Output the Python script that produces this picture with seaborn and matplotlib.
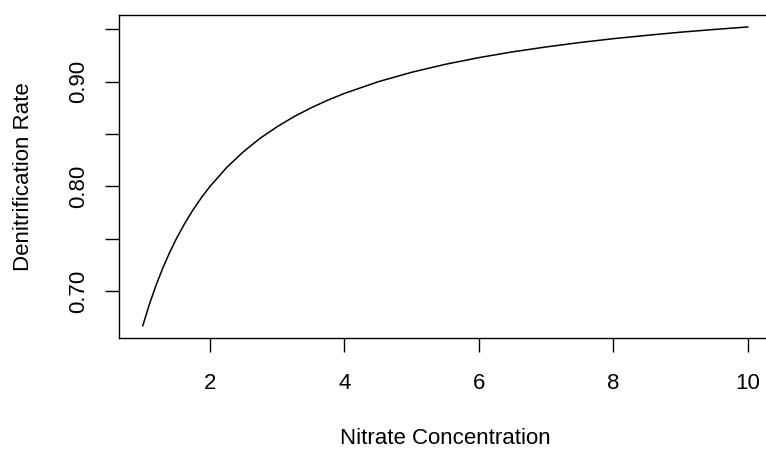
import matplotlib
matplotlib.use("Agg")
import matplotlib.pyplot as plt
import seaborn as sns
import pandas as pd

# Values
nitrate = [1.0, 1.1, 1.2, 1.3, 1.4, 1.5, 1.625, 1.75, 1.875, 2.0, 2.25, 2.5, 2.75,
           3.0, 3.25, 3.5, 3.75, 4.0, 4.5, 5.0, 5.5, 6.0, 6.5, 7.0, 7.5, 8.0,
           8.5, 9.0, 9.5, 10.0]
rate = [0.6667, 0.6875, 0.7059, 0.7222, 0.7368, 0.7500, 0.7647, 0.7778, 0.7895,
        0.8000, 0.8182, 0.8333, 0.8462, 0.8571, 0.8667, 0.8750, 0.8824, 0.8889,
        0.9000, 0.9091, 0.9167, 0.9231, 0.9286, 0.9333, 0.9375, 0.9412, 0.9444,
        0.9474, 0.9500, 0.9524]

x_ticks = [2, 4, 6, 8, 10]
x_tick_labels = ["2", "4", "6", "8", "10"]
y_ticks = [0.70, 0.75, 0.80, 0.85, 0.90, 0.95]
y_tick_labels = ["0.70", "", "0.80", "", "0.90", ""]

x_label = "Nitrate Concentration"
y_label = "Denitrification Rate"

sns.set_style("ticks")
plt.rcParams["font.family"] = ["Liberation Sans", "DejaVu Sans"]

df = pd.DataFrame({"x": nitrate, "y": rate})

fig = plt.figure(figsize=(7.66, 4.49), dpi=100)
W, H = 766, 449
left, right, top, bottom = 118.5, 772.2, 15, 338
ax = fig.add_axes([left / W, (H - bottom) / H, (right - left) / W, (bottom - top) / H])

sns.lineplot(data=df, x="x", y="y", ax=ax, color="black", linewidth=1.1, estimator=None)

ax.set_xlim(0.64, 10.36)
ax.set_ylim(0.65517, 0.96381)

ax.set_xticks(x_ticks)
ax.set_xticklabels(x_tick_labels)
ax.set_yticks(y_ticks)
ax.set_yticklabels(y_tick_labels, rotation=90, va="center")

ax.tick_params(axis="both", direction="out", length=10, width=1.0, color="black",
               labelsize=16, labelcolor="black")
ax.tick_params(axis="x", pad=15.5)
ax.tick_params(axis="y", pad=11)

for s in ax.spines.values():
    s.set_visible(True)
    s.set_color("black")
    s.set_linewidth(1.0)

ax.set_xlabel(x_label, fontsize=16, labelpad=24, color="black")
ax.set_ylabel(y_label, fontsize=16, labelpad=25, color="black")
ax.grid(False)

fig.savefig("out.png", dpi=100, facecolor="white")
